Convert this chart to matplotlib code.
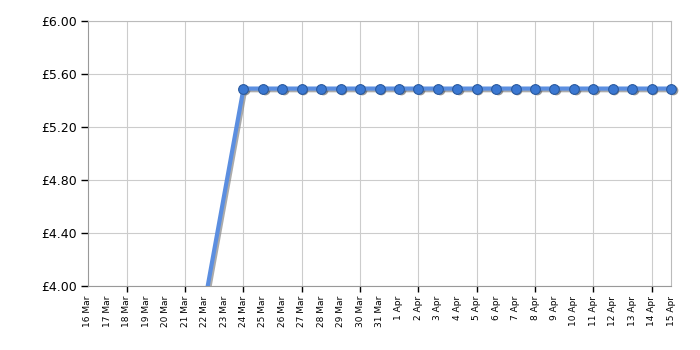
import numpy as np
import pandas as pd
import matplotlib
matplotlib.use('Agg')
import matplotlib.pyplot as plt
from matplotlib.transforms import offset_copy

# axis range (days shown)
axis_start = '2024-03-16'
axis_end = '2024-04-15'

# price history
price_dates = ['2024-03-22', '2024-03-24', '2024-03-25', '2024-03-26', '2024-03-27',
               '2024-03-28', '2024-03-29', '2024-03-30', '2024-03-31', '2024-04-01',
               '2024-04-02', '2024-04-03', '2024-04-04', '2024-04-05', '2024-04-06',
               '2024-04-07', '2024-04-08', '2024-04-09', '2024-04-10', '2024-04-11',
               '2024-04-12', '2024-04-13', '2024-04-14', '2024-04-15']
prices = [3.87, 5.49, 5.49, 5.49, 5.49, 5.49, 5.49, 5.49, 5.49, 5.49,
          5.49, 5.49, 5.49, 5.49, 5.49, 5.49, 5.49, 5.49, 5.49, 5.49,
          5.49, 5.49, 5.49, 5.49]

y_ticks = [4.00, 4.40, 4.80, 5.20, 5.60, 6.00]

days = pd.date_range(axis_start, axis_end)
x_days = np.arange(len(days))
day_labels = [f"{d.day} {d.strftime('%b')}" for d in days]
grid_days = x_days[2::3]

px = [(pd.Timestamp(d) - days[0]).days for d in price_dates]

fig = plt.figure(figsize=(7, 3.5), dpi=100)
ax = fig.add_axes([0.1257, 0.183, 0.833, 0.757])

# shadow copies, shifted a little right / down
shadow_tr = offset_copy(ax.transData, fig=fig, x=1.2, y=-1.2, units='points')
ax.plot(px, prices, color='#888888', lw=3, alpha=0.7, transform=shadow_tr, zorder=2)
ax.plot(px[1:], prices[1:], 'o', ms=7, color='#555555', mec='none', alpha=0.6,
        transform=shadow_tr, zorder=2, clip_on=False)

ax.plot(px, prices, color='#5b8ee0', lw=3, solid_capstyle='round', zorder=3)
ax.plot(px[1:], prices[1:], 'o', ms=7, color='#3b78d2', mec='#2a5a9f', mew=0.8,
        zorder=4, clip_on=False)

ax.set_xlim(x_days[0], x_days[-1])
ax.set_ylim(4.0, 6.0)

ax.set_yticks(y_ticks)
ax.set_yticklabels([f"£{v:.2f}" for v in y_ticks])
ax.tick_params(axis='y', length=5, width=1, color='black', labelsize=9, pad=3)

ax.xaxis.remove_overlapping_locs = False
ax.set_xticks(x_days)
ax.set_xticklabels(day_labels, rotation=90)
ax.tick_params(axis='x', which='major', length=0, labelsize=6.5, pad=7)
ax.set_xticks(grid_days, minor=True)
ax.tick_params(axis='x', which='minor', length=4, width=1, color='black')

ax.grid(True, axis='y', which='major', color='#cccccc', lw=0.8)
ax.grid(True, axis='x', which='minor', color='#cccccc', lw=0.8)
ax.set_axisbelow(True)

for s in ['left', 'bottom']:
    ax.spines[s].set_color('#999999')
for s in ['top', 'right']:
    ax.spines[s].set_color('#bbbbbb')

fig.savefig('out.png', dpi=100)
